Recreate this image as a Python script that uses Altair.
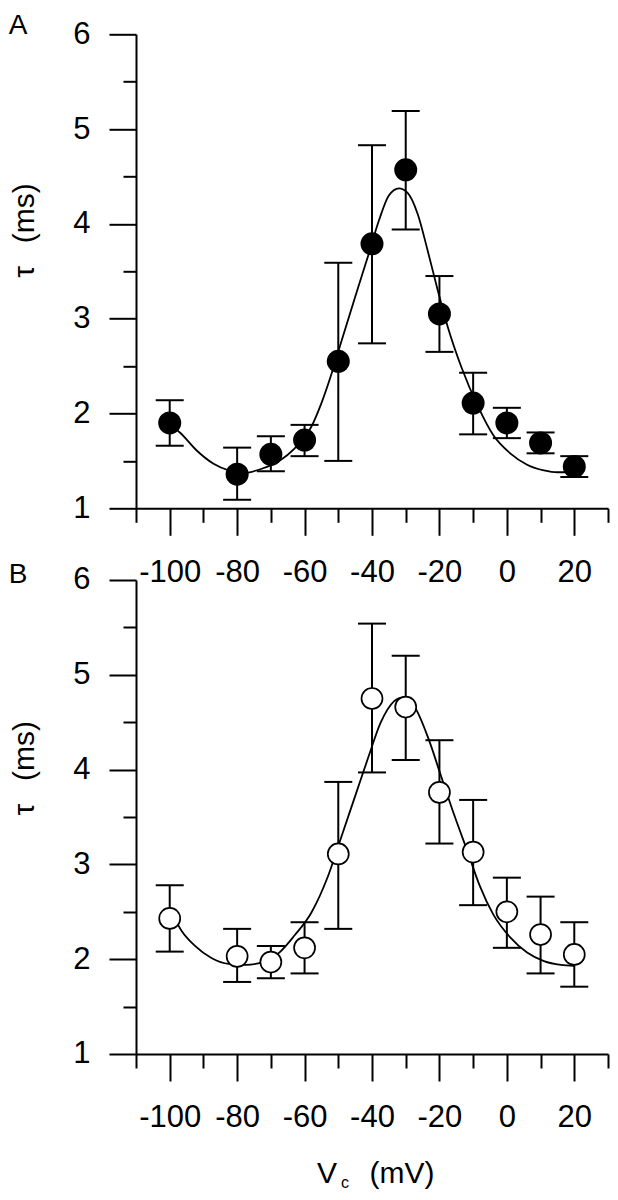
import altair as alt
import pandas as pd

# ---- data ----
vc = [-100, -80, -70, -60, -50, -40, -30, -20, -10, 0, 10, 20]

tau_a = [1.90, 1.36, 1.57, 1.72, 2.55, 3.79, 4.57, 3.05, 2.11, 1.90, 1.69, 1.44]
hi_a = [2.14, 1.64, 1.76, 1.88, 3.59, 4.83, 5.19, 3.45, 2.43, 2.06, 1.80, 1.55]
lo_a = [1.66, 1.09, 1.39, 1.55, 1.50, 2.74, 3.94, 2.65, 1.78, 1.74, 1.58, 1.33]

tau_b = [2.43, 2.03, 1.97, 2.12, 3.11, 4.75, 4.66, 3.76, 3.13, 2.50, 2.26, 2.05]
hi_b = [2.78, 2.32, 2.14, 2.39, 3.87, 5.54, 5.20, 4.31, 3.68, 2.86, 2.66, 2.39]
lo_b = [2.08, 1.76, 1.80, 1.85, 2.32, 3.97, 4.10, 3.22, 2.57, 2.12, 1.85, 1.71]

fit_v_a = [-100, -97, -92, -87, -82.5, -78.5, -72.5, -67.5, -63, -58, -55, -52, -49, -45,
           -41, -38, -35, -32, -29.5, -26.5, -23.5, -20.5, -17.5, -13.5, -8.5, -4, 1, 6,
           11, 15, 20]
fit_t_a = [1.88, 1.80, 1.61, 1.47, 1.40, 1.37, 1.42, 1.50, 1.63, 1.86, 2.11, 2.42, 2.77, 3.23,
           3.68, 4.03, 4.30, 4.375, 4.33, 4.11, 3.72, 3.30, 2.91, 2.49, 2.07, 1.77, 1.58, 1.46,
           1.40, 1.38, 1.38]

fit_v_b = [-100, -96.5, -92.5, -87.5, -82.5, -77.5, -72.5, -67.5, -63, -58, -53, -49, -45,
           -41, -37.5, -33.5, -31, -27.5, -23.5, -19.5, -15.5, -11.5, -8, -4, 1, 6, 11, 16, 20]
fit_t_b = [2.53, 2.30, 2.14, 2.01, 1.95, 1.94, 1.97, 2.07, 2.25, 2.49, 2.88, 3.30, 3.72,
           4.14, 4.49, 4.72, 4.76, 4.67, 4.35, 3.93, 3.51, 3.12, 2.77, 2.47, 2.23, 2.07, 1.98,
           1.94, 1.93]

x_ticks = list(range(-110, 31, 10))
y_ticks = [1, 1.5, 2, 2.5, 3, 3.5, 4, 4.5, 5, 5.5, 6]
x_domain = [-110, 30]
y_domain = [1, 6]

FONT = "Liberation Sans"
W = 472
H = 474
NB = "\u00a0"
LEFT = -127.2


def make_panel(tau, lo, hi, fit_v, fit_t, filled, letter, letter_y, ytitle_y, with_xtitle):
    pts = pd.DataFrame({"vc": vc, "tau": tau, "lo": lo, "hi": hi})
    fit = pd.DataFrame({"vc": fit_v, "tau": fit_t})

    xscale = alt.Scale(domain=x_domain, nice=False, zero=False)
    yscale = alt.Scale(domain=y_domain, nice=False, zero=False)

    xkw = dict(
        values=x_ticks,
        tickSize={"condition": {"test": "datum.value % 20 === 0", "value": 27}, "value": 14},
        labelExpr="datum.value % 20 === 0 ? '' + datum.value : ''",
        labelPadding=22, labelFontSize=31, labelFont=FONT, labelColor="black",
        labelOverlap=False, labelFlush=False, labelBaseline="top",
        tickColor="black", tickWidth=2, domainColor="black", domainWidth=2,
        grid=False,
    )
    if with_xtitle:
        xkw.update(title="(mV)", titleFont=FONT, titleFontSize=30, titleFontWeight="normal",
                   titleColor="black", titleAlign="left", titleBaseline="alphabetic",
                   titleX=233, titleY=129)
    else:
        xkw.update(title=None)
    xaxis = alt.Axis(**xkw)

    yaxis = alt.Axis(
        values=y_ticks,
        tickSize={"condition": {"test": "datum.value % 1 === 0", "value": 27}, "value": 13},
        labelExpr="datum.value % 1 === 0 ? '' + datum.value : ''",
        labelPadding=19, labelFontSize=31, labelFont=FONT, labelColor="black",
        labelOverlap=False, labelFlush=False,
        tickColor="black", tickWidth=2, domainColor="black", domainWidth=2,
        grid=False,
        title="\u03c4" + NB + NB + "\u2009(ms)", titleFont=FONT, titleFontSize=30,
        titleFontWeight="normal", titleColor="black", titleAngle=270,
        titleAlign="left", titleBaseline="alphabetic", titleX=-103, titleY=ytitle_y,
    )

    X = alt.X("vc:Q", scale=xscale, axis=xaxis)

    def Y(field):
        return alt.Y(field, type="quantitative", scale=yscale, axis=yaxis)

    line = alt.Chart(fit).mark_line(color="black", strokeWidth=1.8,
                                    interpolate="monotone").encode(x=X, y=Y("tau"))
    bars = alt.Chart(pts).mark_rule(color="black", strokeWidth=2).encode(
        x=X, y=Y("lo"), y2="hi:Q")
    cap_lo = alt.Chart(pts).mark_tick(color="black", orient="horizontal", size=28,
                                      thickness=2, opacity=1).encode(x=X, y=Y("lo"))
    cap_hi = alt.Chart(pts).mark_tick(color="black", orient="horizontal", size=28,
                                      thickness=2, opacity=1).encode(x=X, y=Y("hi"))
    if filled:
        dots = alt.Chart(pts).mark_point(shape="circle", filled=True, color="black",
                                         size=529, opacity=1).encode(x=X, y=Y("tau"))
    else:
        dots = alt.Chart(pts).mark_point(shape="circle", fill="white", stroke="black",
                                         strokeWidth=1.7, size=441, opacity=1,
                                         fillOpacity=1).encode(x=X, y=Y("tau"))

    lab = alt.Chart(pd.DataFrame({"t": [letter]})).mark_text(
        font=FONT, fontSize=28, align="left", baseline="top", color="black"
    ).encode(text="t:N", x=alt.value(LEFT), y=alt.value(letter_y))

    layers = [line, bars, cap_lo, cap_hi, dots, lab]
    if with_xtitle:
        v_txt = alt.Chart(pd.DataFrame({"t": ["V"]})).mark_text(
            font=FONT, fontSize=30, align="left", baseline="alphabetic", color="black"
        ).encode(text="t:N", x=alt.value(181), y=alt.value(603))
        c_txt = alt.Chart(pd.DataFrame({"t": ["c"]})).mark_text(
            font=FONT, fontSize=16, align="center", baseline="alphabetic", color="black"
        ).encode(text="t:N", x=alt.value(209), y=alt.value(608.5))
        layers += [v_txt, c_txt]

    return alt.layer(*layers).properties(width=W, height=H)


panel_a = make_panel(tau_a, lo_a, hi_a, fit_v_a, fit_t_a, True, "A", -22, 243, False)
panel_b = make_panel(tau_b, lo_b, hi_b, fit_v_b, fit_t_b, False, "B", -19, 235, True)

chart = alt.vconcat(panel_a, panel_b, spacing=71.7, bounds="flush").properties(
    padding={"left": 0, "top": 3.3, "right": 0, "bottom": 1}, background="white"
).configure_view(stroke="transparent")

chart.save("out.html", embed_options={"renderer": "svg", "actions": False})
